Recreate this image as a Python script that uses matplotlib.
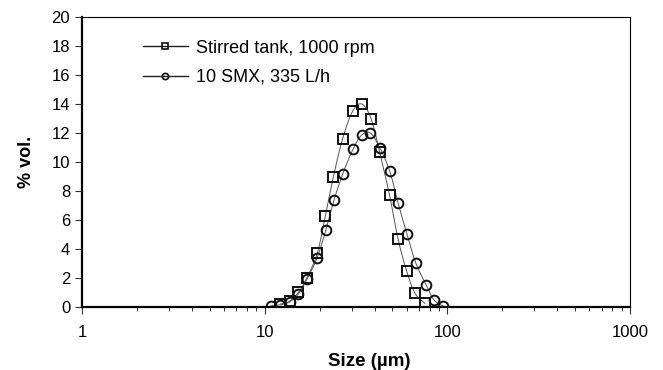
import numpy as np
import matplotlib.pyplot as plt
from matplotlib.lines import Line2D
from matplotlib.ticker import LogLocator, FixedLocator, NullFormatter

plt.rcParams['font.family'] = ['Liberation Sans', 'DejaVu Sans']

# particle size distributions
tank_size = [12.2, 13.7, 15.3, 17.0, 19.4, 21.5, 23.8, 26.7, 30.3, 34.0,
             38.2, 42.6, 48.3, 53.7, 60.0, 66.5, 75.3]
tank_vol = [0.2, 0.4, 1.0, 2.0, 3.7, 6.3, 9.0, 11.6, 13.5, 14.0,
            13.0, 10.7, 7.7, 4.7, 2.45, 0.95, 0.25]

smx_size = [10.8, 12.2, 13.7, 15.3, 17.0, 19.4, 21.6, 24.0, 26.8, 30.5,
            33.9, 37.9, 42.6, 48.3, 53.7, 60.2, 67.1, 76.4, 84.5, 94.6]
smx_vol = [0.07, 0.15, 0.35, 0.9, 1.9, 3.4, 5.3, 7.4, 9.2, 10.9,
           11.85, 12.0, 11.0, 9.4, 7.2, 5.0, 3.05, 1.55, 0.48, 0.07]

labels = ['Stirred tank, 1000 rpm', '10 SMX, 335 L/h']


# smooth curve through points (Catmull-Rom in log-x space), like a spreadsheet smoothed line
def smooth(xs, ys, n=20):
    u = np.log10(np.array(xs))
    v = np.array(ys)
    pu = np.concatenate([[2*u[0]-u[1]], u, [2*u[-1]-u[-2]]])
    pv = np.concatenate([[2*v[0]-v[1]], v, [2*v[-1]-v[-2]]])
    ou, ov = [], []
    t = np.linspace(0, 1, n, endpoint=False)
    for i in range(1, len(pu)-2):
        for arr, out in ((pu, ou), (pv, ov)):
            p0, p1, p2, p3 = arr[i-1], arr[i], arr[i+1], arr[i+2]
            out.extend(0.5*((2*p1) + (-p0+p2)*t + (2*p0-5*p1+4*p2-p3)*t**2
                            + (-p0+3*p1-3*p2+p3)*t**3))
    ou.append(u[-1]); ov.append(v[-1])
    return 10**np.array(ou), np.array(ov)


fig = plt.figure(figsize=(6.63, 3.70), dpi=100)
ax = fig.add_axes([0.1237, 0.1703, 0.8265, 0.7837])

for xs, ys, m in ((tank_size, tank_vol, 's'), (smx_size, smx_vol, 'o')):
    sx, sy = smooth(xs, ys)
    ax.plot(sx, sy, color='#555555', lw=0.7, zorder=2)
    ax.plot(xs, ys, ls='none', marker=m, ms=7, mfc='none', mec='#111111', mew=1.4, zorder=3)

ax.set_xscale('log')
ax.set_xlim(1, 1000)
ax.set_ylim(0, 20)
ax.xaxis.set_major_locator(FixedLocator([1, 10, 100, 1000]))
ax.xaxis.set_minor_locator(LogLocator(base=10, subs=np.arange(2, 10)))
ax.xaxis.set_minor_formatter(NullFormatter())
ax.set_xticklabels(['1', '10', '100', '1000'])
ax.set_yticks(np.arange(0, 21, 2))

ax.tick_params(axis='both', which='major', direction='out', length=5, width=0.8, labelsize=12, color='#333333')
ax.tick_params(axis='x', which='minor', direction='out', length=3, width=0.7, color='#333333')
ax.tick_params(axis='x', pad=8)

for s in ('left', 'bottom'):
    ax.spines[s].set_linewidth(1.6)
for s in ('top', 'right'):
    ax.spines[s].set_linewidth(0.8)

ax.set_xlabel('Size (µm)', fontsize=13.5, fontweight='bold')
ax.xaxis.set_label_coords(0.525, -0.16)
ax.set_ylabel('% vol.', fontsize=13, fontweight='bold', labelpad=12)

handles = [Line2D([], [], color='#222222', lw=1.0, marker='s', ms=4.5, mfc='none', mec='#111111', mew=1.2),
           Line2D([], [], color='#222222', lw=1.0, marker='o', ms=4.5, mfc='none', mec='#111111', mew=1.2)]
ax.legend(handles, labels, loc='upper left', bbox_to_anchor=(0.081, 0.978), frameon=False,
          fontsize=13, handlelength=2.5, handletextpad=0.45, labelspacing=0.68)

fig.savefig('out.png', dpi=100)
